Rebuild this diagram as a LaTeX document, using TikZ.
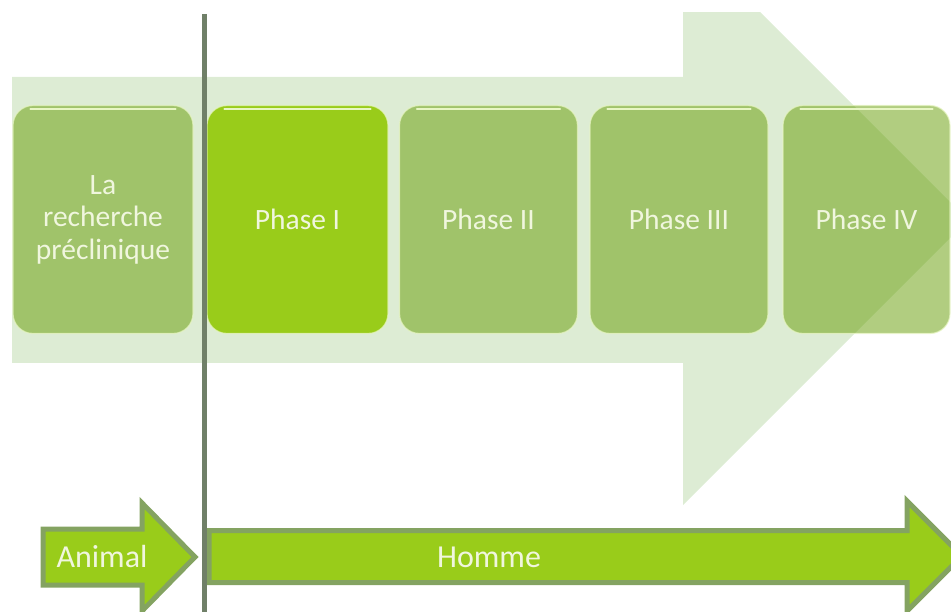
\documentclass[tikz,border=0pt]{standalone}
\usepackage{fontspec}
\setmainfont{Carlito}
\definecolor{bgarrow}{RGB}{221,236,212}
\definecolor{boxgreen}{RGB}{100,155,2}
\definecolor{brightgreen}{RGB}{153,204,26}
\definecolor{arrowedge}{RGB}{132,163,97}
\definecolor{txtcol}{RGB}{240,246,222}
\definecolor{rim}{RGB}{232,246,196}
\definecolor{divider}{RGB}{112,128,104}
\tikzset{
  phasebox/.style={rounded corners=20pt, minimum height=228pt, inner sep=0pt,
    fill=boxgreen, fill opacity=0.5, text opacity=1, draw=rim, draw opacity=0.7, line width=1.2pt,
    text=txtcol, font=\fontsize{29.5}{32.5}\selectfont, align=center},
  activebox/.style={phasebox, fill=brightgreen, fill opacity=1},
  timearrow/.style={fill=brightgreen, draw=arrowedge, line width=5pt, line join=miter},
  arrowlabel/.style={text=txtcol, font=\fontsize{32}{36}\selectfont, inner sep=0pt},
  divline/.style={draw=divider, line width=5pt}
}
\begin{document}
\begin{tikzpicture}[x=1pt,y=-1pt]
\useasboundingbox (0,0) rectangle (951,612);
\begin{scope}
\clip (0,13) rectangle (951,612);
\fill[bgarrow] (12,77) -- (683,77) -- (683,-65) -- (968,220) -- (683,505) -- (683,363) -- (12,363) -- cycle;
\end{scope}
\node[phasebox, minimum width=180pt] (pre) at (103,219.5) {La\\recherche\\préclinique};
\node[activebox, minimum width=181pt] (p1) at (297.5,219.5) {Phase I};
\node[phasebox, minimum width=178pt] (p2) at (488.5,219.5) {Phase II};
\node[phasebox, minimum width=178pt] (p3) at (679,219.5) {Phase III};
\node[phasebox, minimum width=167pt] (p4) at (866.5,219.5) {Phase IV};
% glossy top highlights
\foreach \n in {pre,p1,p2,p3,p4}{
  \draw[rim, line width=2pt, line cap=round] ([xshift=18pt,yshift=-4pt]\n.north west) -- ([xshift=-18pt,yshift=-4pt]\n.north east);
}
% bottom arrows
\draw[timearrow] (43,529) -- (142,529) -- (142,503) -- (195,557) -- (142,611) -- (142,585) -- (43,585) -- cycle;
\node[arrowlabel] (animal) at (102,557) {Animal};
\begin{scope}
\clip (0,0) rectangle (951,612);
\draw[timearrow] (209,530.5) -- (907,530.5) -- (907,501) -- (962,556) -- (907,611) -- (907,582.5) -- (209,582.5) -- cycle;
\end{scope}
\node[arrowlabel] (homme) at (489,557) {Homme};
% divider
\coordinate (dtop) at (204,14);
\coordinate (dbot) at (204,612);
\draw[divline] (dtop) -- (dbot);
\end{tikzpicture}
\end{document}
